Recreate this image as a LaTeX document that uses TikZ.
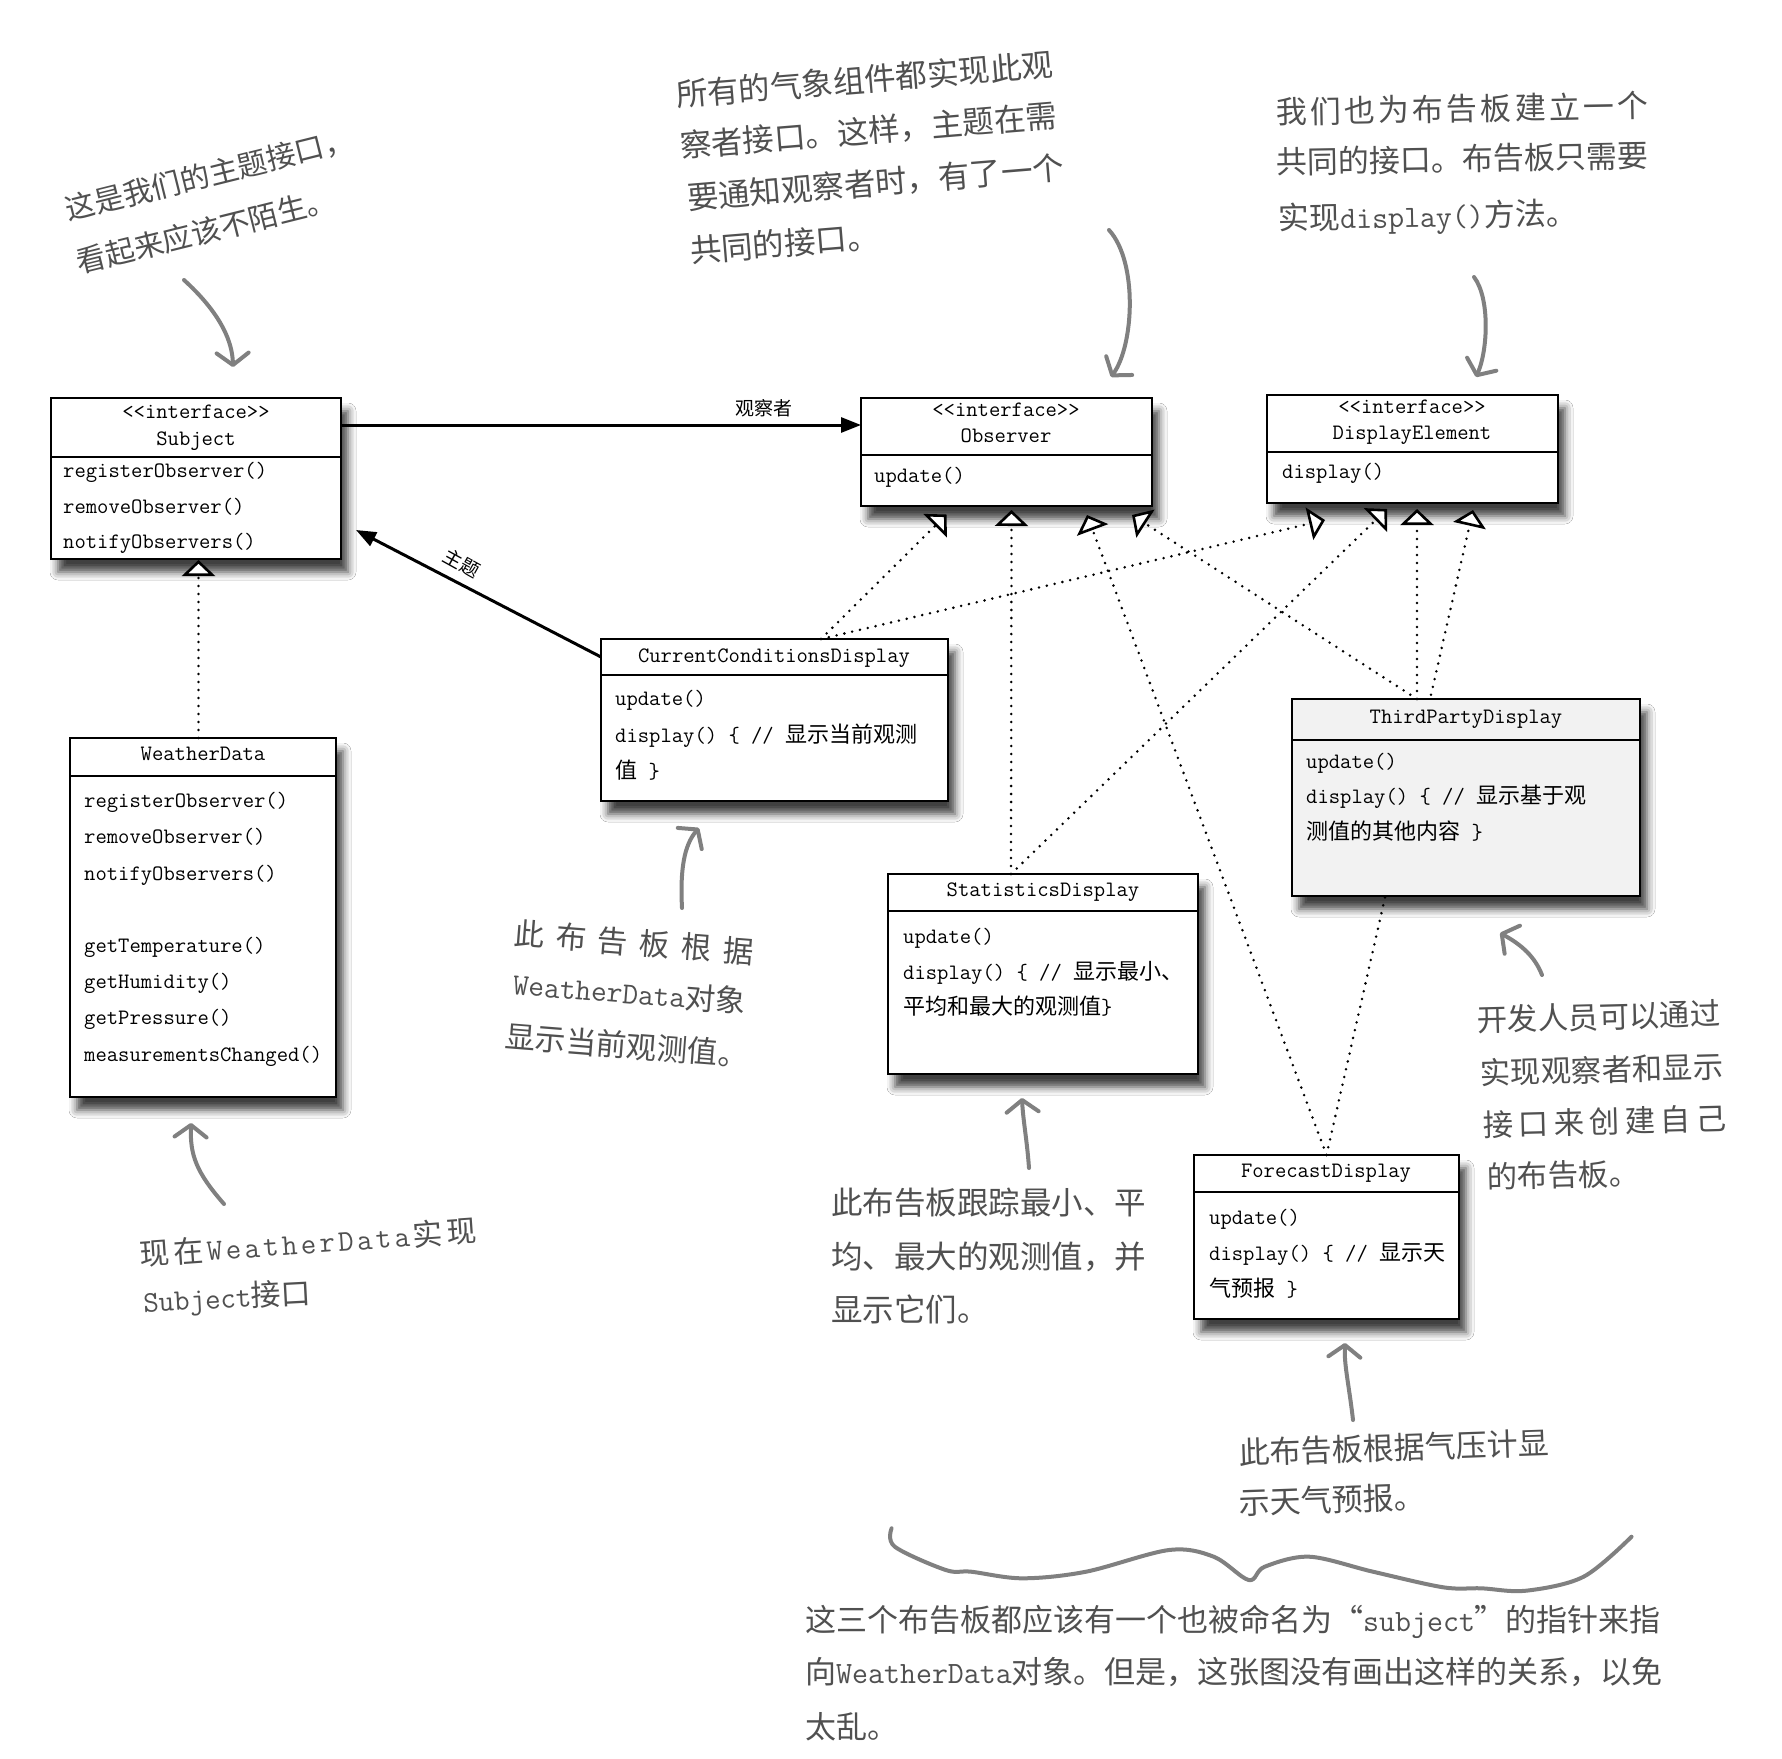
\documentclass[tikz,border=0pt]{standalone}
\usepackage{fontspec}
\newfontfamily\cjk{Noto Sans CJK SC}
\usetikzlibrary{arrows.meta,shadows.blur}
\definecolor{annot}{RGB}{80,80,80}
\definecolor{arrgray}{RGB}{128,128,128}
\definecolor{tpfill}{RGB}{242,242,242}
\newcommand\zh[1]{{\cjk\fontsize{22}{22}\selectfont #1}}
\makeatletter
\def\spreadtok#1{\spreadtok@#1\@nil}
\def\spreadtok@#1#2\@nil{#1\ifx\relax#2\relax\else\hfil\spreadtok@#2\@nil\fi}
\makeatother
\begin{document}
\begin{tikzpicture}[x=1pt,y=-1pt,
  classbox/.style={draw=black, line width=1.8pt, fill=white, anchor=north west, inner sep=0pt, outer sep=0pt,
    blur shadow={shadow xshift=7pt, shadow yshift=-13pt, shadow blur radius=8pt, shadow opacity=75}},
  divider/.style={line width=2pt},
  boxtxt/.style={font=\fontsize{22}{22}\selectfont\ttfamily\addfontfeatures{FakeStretch=0.97,FakeBold=0.5},
    inner sep=0pt, text height=15pt, text depth=4pt},
  mtxt/.style={boxtxt, anchor=west},
  htxt/.style={boxtxt, anchor=center},
  annot/.style={font=\cjk\fontsize{#1}{#1}\selectfont, text=annot, inner sep=0pt, anchor=west,
    text height={0.88*#1pt}, text depth={0.12*#1pt}},
  realize/.style={line width=2.8pt, dash pattern=on 0pt off 8pt, line cap=round,
    -{Triangle[length=16pt,width=33pt,fill=white,line width=2.6pt]}},
  assoc/.style={line width=3pt, -{Triangle[length=20pt,width=15pt]}},
  garrow/.style={draw=arrgray, line width=4pt, line cap=round,
    -{Straight Barb[round,length=12pt,width=32pt]}},
  lbl/.style={font=\cjk\fontsize{19}{19}\selectfont, inner sep=0pt}
]
\fill[white] (0,0) rectangle (1782,1758);
\useasboundingbox (0,0) rectangle (1782,1758);

% ---------- class boxes ----------
\node[classbox, minimum width=290pt, minimum height=161pt] (subj) at (51,398) {};
\node[classbox, minimum width=291pt, minimum height=108pt] (obs) at (861,398) {};
\node[classbox, minimum width=291pt, minimum height=108pt] (de) at (1267,395) {};
\node[classbox, minimum width=347pt, minimum height=162pt] (cc) at (601,639) {};
\node[classbox, minimum width=266pt, minimum height=359pt] (wd) at (70,738) {};
\node[classbox, minimum width=310pt, minimum height=200pt] (stat) at (888,874) {};
\node[classbox, minimum width=265pt, minimum height=164pt] (fc) at (1194,1155) {};
\coordinate (tD4) at (1473,510);
\draw[realize] (fc.north) -- (tD4);
\node[classbox, fill=tpfill, minimum width=348pt, minimum height=197pt] (tp) at (1292,699) {};

\foreach \n/\d in {subj/59, obs/57, de/57, cc/36, wd/38, stat/37, tp/41, fc/37}
  \draw[divider] ([yshift=-\d pt]\n.north west) -- ([yshift=-\d pt]\n.north east);

% Subject
\node[htxt] (subjst) at (196,413) {<<interface>>};
\node[htxt] (subjnm) at (196,440) {Subject};
\node[mtxt] (subjm1) at (63,472) {registerObserver()};
\node[mtxt] (subjm2) at (63,508) {removeObserver()};
\node[mtxt] (subjm3) at (63,543) {notifyObservers()};
% Observer
\node[htxt] (obsst) at (1006,411) {<<interface>>};
\node[htxt] (obsnm) at (1006,437) {Observer};
\node[mtxt] (obsm1) at (874,477) {update()};
% DisplayElement
\node[htxt] (dest) at (1412,408) {<<interface>>};
\node[htxt] (denm) at (1412,434) {DisplayElement};
\node[mtxt] (dem1) at (1282,473) {display()};
% CurrentConditionsDisplay
\node[htxt] (ccnm) at (774,657) {CurrentConditionsDisplay};
\node[mtxt] (ccm1) at (615,700) {update()};
\node[mtxt] (ccm2) at (615,737) {display() \{ // \zh{显示当前观测}};
\node[mtxt] (ccm3) at (615,773) {\zh{值} \}};
% WeatherData
\node[htxt] (wdnm) at (203,755) {WeatherData};
\node[mtxt] (wdm1) at (84,802) {registerObserver()};
\node[mtxt] (wdm2) at (84,838) {removeObserver()};
\node[mtxt] (wdm3) at (84,875) {notifyObservers()};
\node[mtxt] (wdm4) at (84,947) {getTemperature()};
\node[mtxt] (wdm5) at (84,983) {getHumidity()};
\node[mtxt] (wdm6) at (84,1019) {getPressure()};
\node[mtxt] (wdm7) at (84,1056) {measurementsChanged()};
% StatisticsDisplay
\node[htxt] (statnm) at (1043,891) {StatisticsDisplay};
\node[mtxt] (statm1) at (903,938) {update()};
\node[mtxt] (statm2) at (903,974) {display() \{ // \zh{显示最小、}};
\node[mtxt] (statm3) at (903,1009) {\zh{平均和最大的观测值}\}};
% ThirdPartyDisplay
\node[htxt] (tpnm) at (1466,718) {ThirdPartyDisplay};
\node[mtxt] (tpm1) at (1306,763) {update()};
\node[mtxt] (tpm2) at (1306,798) {display() \{ // \zh{显示基于观}};
\node[mtxt] (tpm3) at (1306,834) {\zh{测值的其他内容} \}};
% ForecastDisplay
\node[htxt] (fcnm) at (1326,1172) {ForecastDisplay};
\node[mtxt] (fcm1) at (1209,1219) {update()};
\node[mtxt] (fcm2) at (1209,1255) {display() \{ // \zh{显示天}};
\node[mtxt] (fcm3) at (1209,1291) {\zh{气预报} \}};

% ---------- associations ----------
\draw[assoc] ([yshift=-27pt]subj.north east) -- ([yshift=-27pt]obs.north west);
\node[lbl] (lblobs) at (764,408) {观察者};
\coordinate (subjarr) at (356,530);
\draw[assoc] ([yshift=-18pt]cc.north west) -- (subjarr);
\node[lbl, rotate=-29] (lblsubj) at (462,563) {主题};

% ---------- realizations ----------
\coordinate (tS) at (198.5,560);
\coordinate (tO1) at (946.5,514.5);
\coordinate (tO2) at (1011.5,510);
\coordinate (tO3) at (1087,515);
\coordinate (tO4) at (1132,515);
\coordinate (tD1) at (1325,520);
\coordinate (tD2) at (1387,509);
\coordinate (tD3) at (1417,509);
\coordinate (ccsrc) at ([xshift=220pt]cc.north west);
\coordinate (statsrc) at ([xshift=123pt]stat.north west);
\coordinate (tpsrc) at ([xshift=125pt]tp.north west);
\draw[realize] ([xshift=-4.5pt]wd.north) -- (tS);
\draw[realize] (ccsrc) -- (tO1);
\draw[realize] (ccsrc) -- (tD1);
\draw[realize] (statsrc) -- (tO2);
\draw[realize] (statsrc) -- (tD2);
\draw[realize] (fc.north) -- (tO3);
\draw[realize] (tpsrc) -- (tO4);
\draw[realize] (tpsrc) -- (tD3);

% ---------- annotations ----------
\node[annot=29.5, rotate=14] (a1l1) at (66,210) {这是我们的主题接口，};
\node[annot=29.5, rotate=14] (a1l2) at (77,263) {看起来应该不陌生。};

\node[annot=31.5, rotate=4.7] (a2l1) at (676,95) {所有的气象组件都实现此观};
\node[annot=31.5, rotate=4.7] (a2l2) at (680,146) {察者接口。这样，主题在需};
\node[annot=31.5, rotate=4.7] (a2l3) at (687,198) {要通知观察者时，有了一个};
\node[annot=31.5, rotate=4.7] (a2l4) at (690,251) {共同的接口。};

\node[annot=31, rotate=1] (a3l1) at (1276,112) {\hbox to 372pt{\spreadtok{我们也为布告板建立一个}}};
\node[annot=31, rotate=1] (a3l2) at (1276,162) {共同的接口。布告板只需要};
\node[annot=31, rotate=1] (a3l3) at (1278,218) {实现{\ttfamily display()}方法。};

\node[annot=30.5, rotate=-4.5] (a4l1) at (514,933) {\hbox to 240pt{\spreadtok{此布告板根据}}};
\node[annot=30.5, rotate=-4.5] (a4l2) at (513,983) {{\ttfamily WeatherData}对象};
\node[annot=30.5, rotate=-4.5] (a4l3) at (505,1036) {显示当前观测值。};

\node[annot=30, rotate=4] (a5l1) at (140,1254) {\hbox to 337pt{现\hfil 在\hfil{\ttfamily\spreadtok{WeatherData}}\hfil 实\hfil 现}};
\node[annot=30, rotate=3] (a5l2) at (143,1301) {{\ttfamily Subject}接口};

\node[annot=31.5] (a6l1) at (831,1203) {此布告板跟踪最小、平};
\node[annot=31.5] (a6l2) at (831,1257) {均、最大的观测值，并};
\node[annot=31.5] (a6l3) at (831,1310) {显示它们。};

\node[annot=31, rotate=2] (a7l1) at (1239,1453) {此布告板根据气压计显};
\node[annot=31, rotate=2] (a7l2) at (1239,1503) {示天气预报。};

\node[annot=30.4, rotate=1.5] (a8l1) at (1477,1020) {开发人员可以通过};
\node[annot=30.4, rotate=1.5] (a8l2) at (1480,1073) {实现观察者和显示};
\node[annot=30.4, rotate=1.5] (a8l3) at (1483,1125) {\hbox to 243pt{\spreadtok{接口来创建自己}}};
\node[annot=30.4, rotate=1.5] (a8l4) at (1487,1177) {的布告板。};

\node[annot=31] (a9l1) at (805,1620) {这三个布告板都应该有一个也被命名为“{\ttfamily subject}”的指针来指};
\node[annot=31] (a9l2) at (805,1672) {\hbox to 855pt{向{\ttfamily WeatherData}\spreadtok{对象。但是，这张图没有画出这样的关系，以免}}};
\node[annot=31] (a9l3) at (805,1727) {太乱。};

% ---------- hand-drawn arrows ----------
\coordinate (g1a) at (184,280);   \coordinate (g1b) at (233,367);
\draw[garrow] (g1a) .. controls (206,300) and (232,330) .. (g1b);
\coordinate (g2a) at (1109,230);  \coordinate (g2b) at (1111,377);
\draw[garrow] (g2a) .. controls (1138,262) and (1134,345) .. (g2b);
\coordinate (g3a) at (1474,277);  \coordinate (g3b) at (1476,377);
\draw[garrow] (g3a) .. controls (1490,298) and (1488,350) .. (g3b);
\coordinate (g4a) at (682,908);   \coordinate (g4b) at (699,828);
\draw[garrow] (g4a) .. controls (680,870) and (684,845) .. (g4b);
\coordinate (g5a) at (1029,1168); \coordinate (g5b) at (1022,1098);
\draw[garrow] (g5a) .. controls (1027,1140) and (1023,1120) .. (g5b);
\coordinate (g6a) at (1353,1420); \coordinate (g6b) at (1345,1343);
\draw[garrow] (g6a) .. controls (1349,1385) and (1344,1365) .. (g6b);
\coordinate (g7a) at (1542,975);  \coordinate (g7b) at (1500,933);
\draw[garrow] (g7a) .. controls (1535,957) and (1522,945) .. (g7b);
\coordinate (g8a) at (224,1204);  \coordinate (g8b) at (191,1123);
\draw[garrow] (g8a) .. controls (196,1172) and (190,1155) .. (g8b);

% brace
\draw[arrgray, line width=4pt, line cap=round, line join=round]
  plot[smooth, tension=0.55] coordinates {(891.6,1528.3) (894.8,1546.7) (945.8,1570) (971.3,1571.7)
  (1022.4,1578.3) (1086,1571.7) (1169,1550) (1213.7,1556.7) (1248.8,1580) (1264.7,1566.7)
  (1309.4,1556.7) (1373,1571.7) (1443.3,1587.3) (1481.6,1588.3) (1526,1590.7) (1583.6,1576.7) (1631.5,1536.7)};
\end{tikzpicture}
\end{document}
